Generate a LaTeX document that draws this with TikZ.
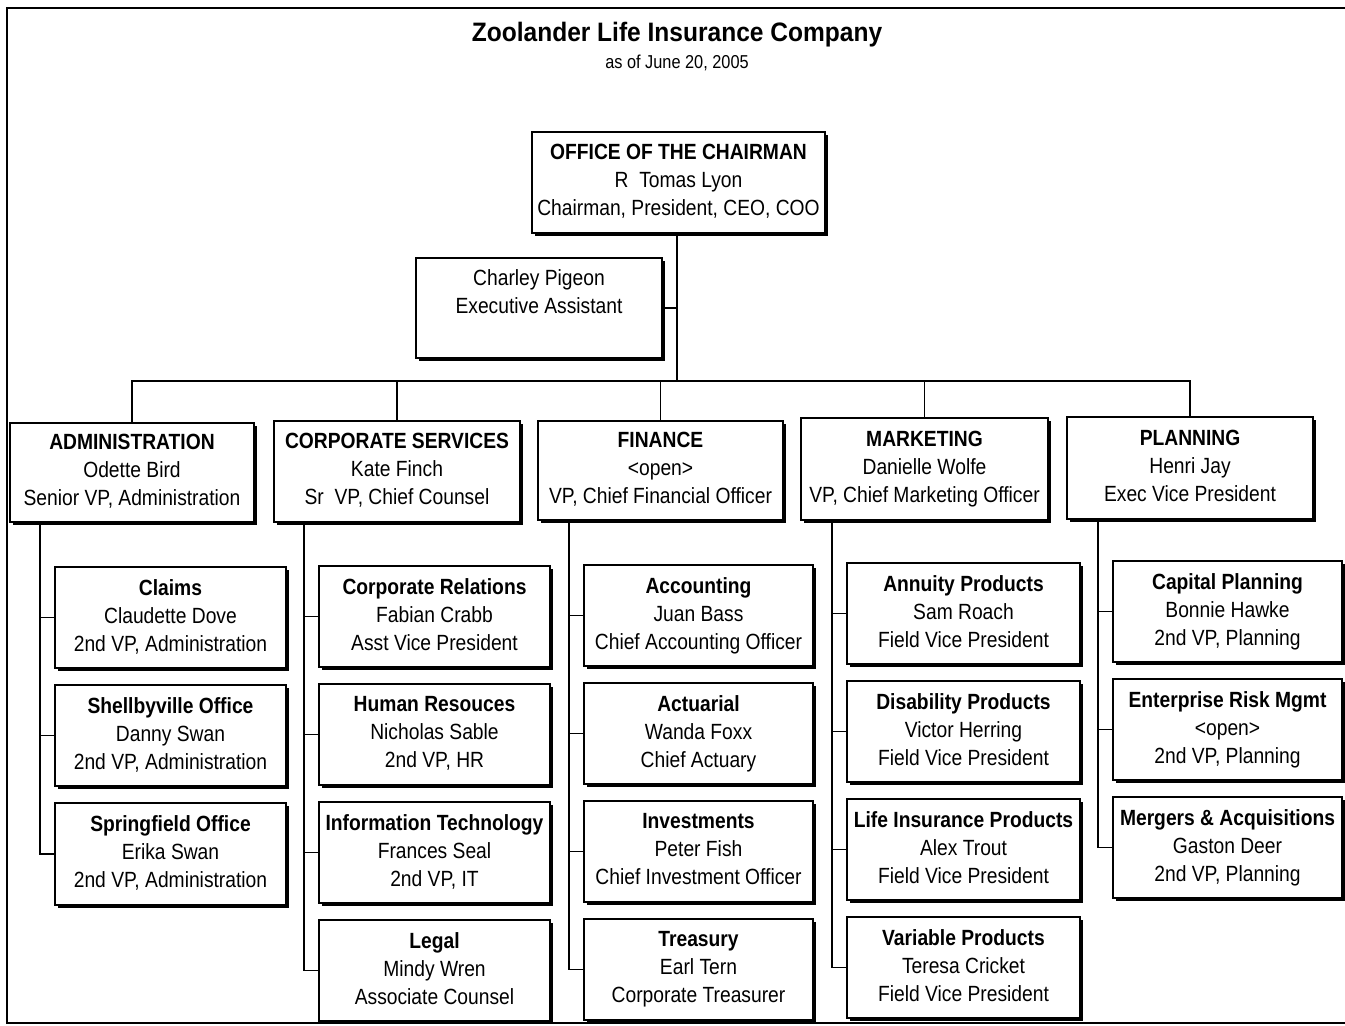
\documentclass[tikz,border=0pt]{standalone}
\usepackage{fontspec}
\setmainfont{Liberation Sans}[FakeStretch=0.875]
\newfontfamily\titlefont{Liberation Sans}[FakeStretch=0.92]
\usetikzlibrary{shadows}
\tikzset{
  orgbox/.style={draw, line width=1.1pt, fill=white, inner sep=0pt, align=center,
    font=\fontsize{16.5}{21}\selectfont,
    execute at begin node={\rule{0pt}{17.6pt}}, execute at end node={\rule[-3.4pt]{0pt}{3.4pt}},
    drop shadow={shadow xshift=2.3pt, shadow yshift=-2.3pt, fill=black, opacity=1}},
  conn/.style={draw, line width=0.9pt},
  frame/.style={draw, line width=1.4pt}
}
\newcommand\obox[6]{\node[orgbox, minimum width={(#4-#2)*0.75pt}, minimum height={(#5-#3)*0.75pt}] (#1) at ({(#2+#4)/2},{(#3+#5)/2}) {#6};}
\begin{document}
\begin{tikzpicture}[x=0.75pt, y=-0.75pt]
\useasboundingbox (0,0) rectangle (1345,1025);
\draw[frame] (1346,8) -- (7,8) -- (7,1023) -- (1346,1023);

\node[font=\titlefont\bfseries\fontsize{20}{24}\selectfont, anchor=base, inner sep=0pt] (title) at (677,41) {Zoolander Life Insurance Company};
\node[font=\fontsize{14}{16}\selectfont, anchor=base, inner sep=0pt] (sub) at (677,68) {as of June 20, 2005};

% top
\obox{chair}{532}{132}{825}{233}{\textbf{OFFICE OF THE CHAIRMAN}\\R~~Tomas Lyon\\Chairman, President, CEO, COO}
\obox{ea}{416}{258}{662}{358}{Charley Pigeon\\Executive Assistant\\}

% departments
\obox{adm}{10}{423}{254}{522}{\textbf{ADMINISTRATION}\\Odette Bird\\Senior VP, Administration}
\obox{corp}{274}{421}{520}{522}{\textbf{CORPORATE SERVICES}\\Kate Finch\\Sr~~VP, Chief Counsel}
\obox{fin}{538}{421}{783}{520}{\textbf{FINANCE}\\\textless open\textgreater\\VP, Chief Financial Officer}
\obox{mkt}{801}{418}{1048}{520}{\textbf{MARKETING}\\Danielle Wolfe\\VP, Chief Marketing Officer}
\obox{plan}{1067}{417}{1313}{519}{\textbf{PLANNING}\\Henri Jay\\Exec Vice President}

% administration
\obox{claims}{55}{567}{286}{668}{\textbf{Claims}\\Claudette Dove\\2nd VP, Administration}
\obox{shelby}{55}{685}{286}{786}{\textbf{Shellbyville Office}\\Danny Swan\\2nd VP, Administration}
\obox{spring}{55}{803}{286}{905}{\textbf{Springfield Office}\\Erika Swan\\2nd VP, Administration}

% corporate services
\obox{crel}{319}{566}{550}{667}{\textbf{Corporate Relations}\\Fabian Crabb\\Asst Vice President}
\obox{hr}{319}{684}{550}{785}{\textbf{Human Resouces}\\Nicholas Sable\\2nd VP, HR}
\obox{it}{319}{802}{550}{903}{\textbf{Information Technology}\\Frances Seal\\2nd VP, IT}
\obox{legal}{319}{920}{550}{1021}{\textbf{Legal}\\Mindy Wren\\Associate Counsel}

% finance
\obox{acct}{584}{565}{813}{666}{\textbf{Accounting}\\Juan Bass\\Chief Accounting Officer}
\obox{act}{584}{683}{813}{784}{\textbf{Actuarial}\\Wanda Foxx\\Chief Actuary}
\obox{inv}{584}{801}{813}{902}{\textbf{Investments}\\Peter Fish\\Chief Investment Officer}
\obox{tre}{584}{919}{813}{1020}{\textbf{Treasury}\\Earl Tern\\Corporate Treasurer}

% marketing
\obox{ann}{847}{563}{1080}{664}{\textbf{Annuity Products}\\Sam Roach\\Field Vice President}
\obox{dis}{847}{681}{1080}{782}{\textbf{Disability Products}\\Victor Herring\\Field Vice President}
\obox{life}{847}{799}{1080}{900}{\textbf{Life Insurance Products}\\Alex Trout\\Field Vice President}
\obox{var}{847}{917}{1080}{1018}{\textbf{Variable Products}\\Teresa Cricket\\Field Vice President}

% planning
\obox{cap}{1113}{561}{1342}{662}{\textbf{Capital Planning}\\Bonnie Hawke\\2nd VP, Planning}
\obox{erm}{1113}{679}{1342}{780}{\textbf{Enterprise Risk Mgmt}\\\textless open\textgreater\\2nd VP, Planning}
\obox{mna}{1113}{797}{1342}{898}{\textbf{Mergers \& Acquisitions}\\Gaston Deer\\2nd VP, Planning}

% connectors, top
\coordinate (bus) at (677,381);
\draw[conn] (chair.south -| bus) -- (bus);
\draw[conn] (ea.east) -- (ea.east -| bus);
\draw[conn] (adm.north) -- (adm.north |- bus) -- (plan.north |- bus) -- (plan.north);
\draw[conn] (corp.north) -- (corp.north |- bus);
\draw[conn] (fin.north) -- (fin.north |- bus);
\draw[conn] (mkt.north) -- (mkt.north |- bus);

% spines
\coordinate (sA) at (40,0);
\coordinate (sC) at (304,0);
\coordinate (sF) at (569,0);
\coordinate (sM) at (832,0);
\coordinate (sP) at (1098,0);
\draw[conn] (adm.south -| sA) |- (spring.west);
\draw[conn] (corp.south -| sC) |- (legal.west);
\draw[conn] (fin.south -| sF) |- (tre.west);
\draw[conn] (mkt.south -| sM) |- (var.west);
\draw[conn] (plan.south -| sP) |- (mna.west);
\foreach \n in {claims,shelby} \draw[conn] (\n.west) -- (\n.west -| sA);
\foreach \n in {crel,hr,it} \draw[conn] (\n.west) -- (\n.west -| sC);
\foreach \n in {acct,act,inv} \draw[conn] (\n.west) -- (\n.west -| sF);
\foreach \n in {ann,dis,life} \draw[conn] (\n.west) -- (\n.west -| sM);
\foreach \n in {cap,erm} \draw[conn] (\n.west) -- (\n.west -| sP);
\end{tikzpicture}
\end{document}
